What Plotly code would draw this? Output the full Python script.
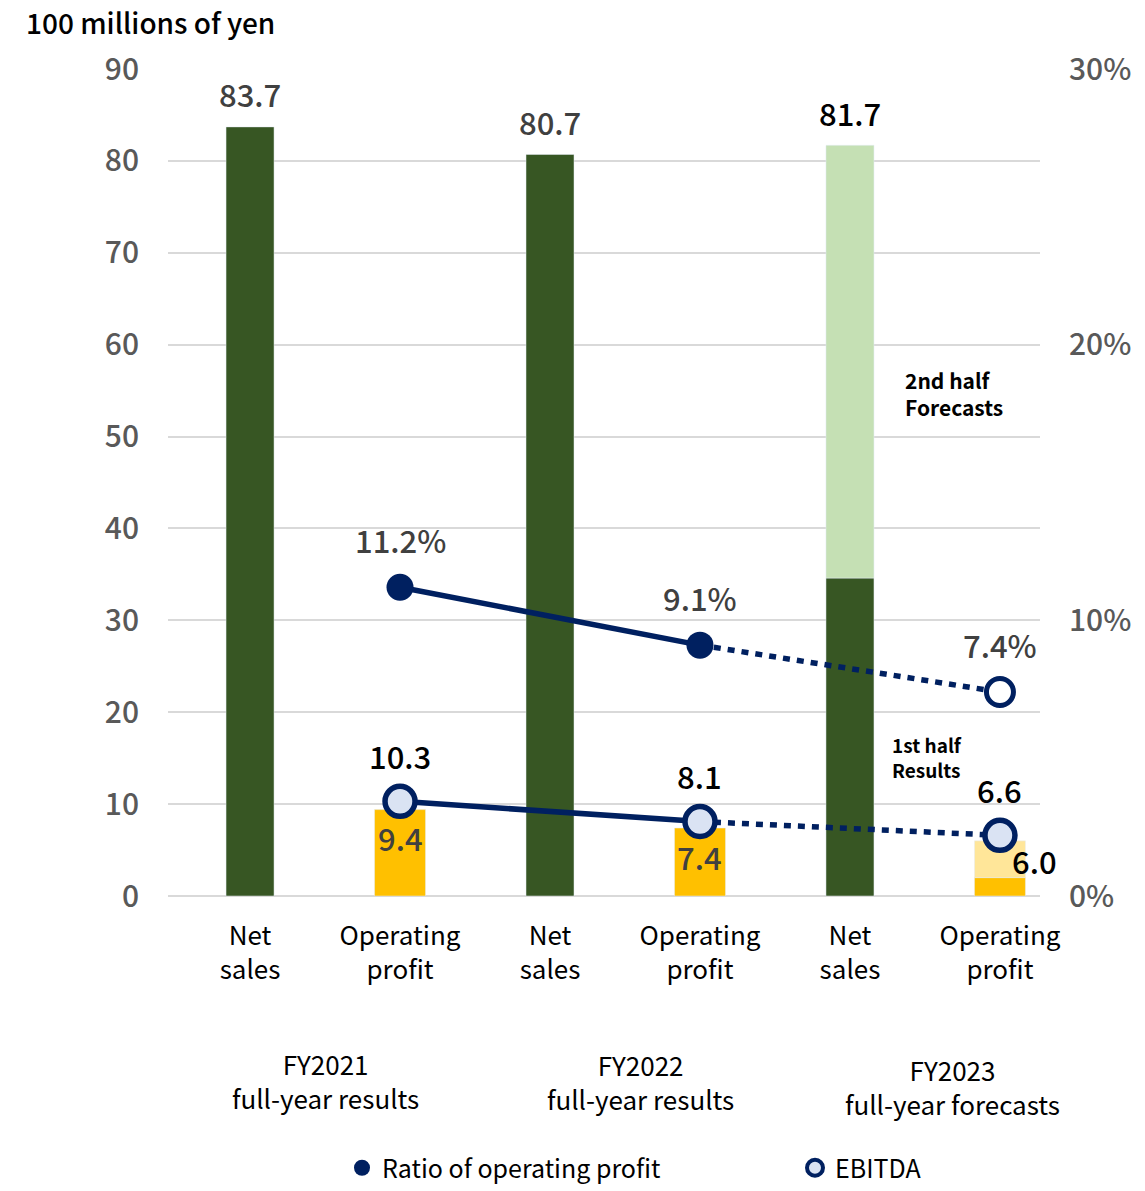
import plotly.graph_objects as go

# ---------------- data ----------------
slot_labels = ["Net<br>sales", "Operating<br>profit", "Net<br>sales",
               "Operating<br>profit", "Net<br>sales", "Operating<br>profit"]
year_labels = ["FY2021<br>full-year results", "FY2022<br>full-year results",
               "FY2023<br>full-year forecasts"]
net_sales_total = [83.7, 80.7, 81.7]
net_sales_1h_fy2023 = 34.6
op_profit_total = [9.4, 7.4, 6.0]
op_profit_1h_fy2023 = 2.0
ebitda = [10.3, 8.1, 6.6]
op_ratio = [0.112, 0.091, 0.074]

# ---------------- layout constants ----------------
W, H = 1145, 1191
ML, MR, MT, MB = 168, 105, 69, 295
PW, PH = W - ML - MR, H - MT - MB
FONT = "Noto Sans CJK JP"
NAVY = "#002060"
DKGREEN = "#375623"
LTGREEN = "#C5E0B4"
YELLOW = "#FFC000"
LTYELLOW = "#FFE699"
EBITDA_FILL = "#DAE3F3"
GRAY = "#595959"
DGRAY = "#404040"
WT = 500


def px(x):
    return (x - ML) / PW


def py(y):
    return (H - MB - y) / PH


ns_x = [0, 2, 4]
op_x = [1, 3, 5]

fig = go.Figure()

# Net sales: full years + FY2023 1st half (dark), FY2023 2nd half (light)
ns_dark = net_sales_total[:2] + [net_sales_1h_fy2023]
fig.add_trace(go.Bar(x=ns_x, y=ns_dark, marker_color=DKGREEN, width=0.32,
                     showlegend=False, hoverinfo="skip"))
fig.add_trace(go.Bar(x=[ns_x[2]], y=[net_sales_total[2] - net_sales_1h_fy2023],
                     marker_color=LTGREEN, width=0.32, showlegend=False, hoverinfo="skip"))
op_dark = op_profit_total[:2] + [op_profit_1h_fy2023]
fig.add_trace(go.Bar(x=op_x, y=op_dark, marker_color=YELLOW, width=0.34,
                     showlegend=False, hoverinfo="skip"))
fig.add_trace(go.Bar(x=[op_x[2]], y=[op_profit_total[2] - op_profit_1h_fy2023],
                     marker_color=LTYELLOW, width=0.34, showlegend=False, hoverinfo="skip"))

# EBITDA lines (left axis)
fig.add_trace(go.Scatter(x=op_x[:2], y=ebitda[:2], mode="lines",
                         line=dict(color=NAVY, width=5.5), showlegend=False, hoverinfo="skip"))
fig.add_trace(go.Scatter(x=op_x[1:], y=ebitda[1:], mode="lines",
                         line=dict(color=NAVY, width=5.5, dash="7px,7px"),
                         showlegend=False, hoverinfo="skip"))
fig.add_trace(go.Scatter(x=op_x, y=ebitda, mode="markers", name="EBITDA",
                         marker=dict(size=30, color=EBITDA_FILL, line=dict(color=NAVY, width=5.5)),
                         showlegend=False))

# Operating profit ratio (right axis)
fig.add_trace(go.Scatter(x=op_x[:2], y=op_ratio[:2], mode="lines", yaxis="y2",
                         line=dict(color=NAVY, width=5.5), showlegend=False, hoverinfo="skip"))
fig.add_trace(go.Scatter(x=op_x[1:], y=op_ratio[1:], mode="lines", yaxis="y2",
                         line=dict(color=NAVY, width=5.5, dash="7px,7px"),
                         showlegend=False, hoverinfo="skip"))
fig.add_trace(go.Scatter(x=op_x[:2], y=op_ratio[:2], mode="markers", yaxis="y2",
                         marker=dict(size=27, color=NAVY), showlegend=False))
fig.add_trace(go.Scatter(x=op_x[2:], y=op_ratio[2:], mode="markers", yaxis="y2",
                         marker=dict(size=27, color="white", line=dict(color=NAVY, width=5)),
                         showlegend=False))

# Legend-only traces (each in its own legend for exact placement)
fig.add_trace(go.Scatter(x=[None], y=[None], mode="markers", name="Ratio of operating profit",
                         marker=dict(size=22, color=NAVY), legend="legend"))
fig.add_trace(go.Scatter(x=[None], y=[None], mode="markers", name="EBITDA",
                         marker=dict(size=24, color=EBITDA_FILL, line=dict(color=NAVY, width=4)),
                         legend="legend2"))

ann = []
# net sales value labels
for i, (x, v) in enumerate(zip(ns_x, net_sales_total)):
    ann.append(dict(x=x, y=v, xref="x", yref="y", text=f"{v:.1f}", showarrow=False,
                    yanchor="middle", yshift=33,
                    font=dict(family=FONT, size=31, weight=WT,
                              color="black" if i == 2 else DGRAY)))
# op profit value labels
for i, (x, v) in enumerate(zip(op_x, op_profit_total)):
    if i < 2:
        ann.append(dict(x=x, y=v, xref="x", yref="y", text=f"{v:.1f}", showarrow=False,
                        yanchor="middle", yshift=-28,
                        font=dict(family=FONT, size=31, weight=WT, color=DGRAY)))
    else:
        ann.append(dict(x=x, y=v, xref="x", yref="y", text=f"{v:.1f}", showarrow=False,
                        xanchor="left", yanchor="middle", xshift=10, yshift=-20,
                        font=dict(family=FONT, size=31, weight=WT, color="black")))
# EBITDA labels
for x, v in zip(op_x, ebitda):
    ann.append(dict(x=x, y=v, xref="x", yref="y", text=f"{v:.1f}", showarrow=False,
                    yanchor="middle", yshift=46,
                    font=dict(family=FONT, size=31, weight=WT, color="black")))
# ratio labels
for x, v in zip(op_x, op_ratio):
    ann.append(dict(x=x, y=v, xref="x", yref="y2", text=f"{v*100:.1f}%", showarrow=False,
                    yanchor="middle", yshift=48,
                    font=dict(family=FONT, size=31, weight=WT, color=DGRAY)))
# half-year notes
ann.append(dict(x=px(903), y=py(393), xref="paper", yref="paper", text="<b>2nd half<br>Forecasts</b>",
                showarrow=False, xanchor="left", yanchor="middle", align="left",
                font=dict(family=FONT, size=21, color="black")))
ann.append(dict(x=px(890), y=py(757), xref="paper", yref="paper", text="<b>1st half<br>Results</b>",
                showarrow=False, xanchor="left", yanchor="middle", align="left",
                font=dict(family=FONT, size=19, color="black")))
# group labels
for cx, cy, t in zip([325, 640, 952], [1080, 1081, 1086], year_labels):
    ann.append(dict(x=px(cx), y=py(cy), xref="paper", yref="paper", text=t, showarrow=False,
                    xanchor="center", yanchor="middle",
                    font=dict(family=FONT, size=26, color="black")))
# unit title
ann.append(dict(x=px(24), y=py(22), xref="paper", yref="paper", text="100 millions of yen",
                showarrow=False, xanchor="left", yanchor="middle",
                font=dict(family=FONT, size=28, weight=WT, color="black")))

legend_common = dict(orientation="h", xref="container", yref="container",
                     y=1 - 1168 / H, xanchor="left", yanchor="middle",
                     font=dict(family=FONT, size=25, color="black"),
                     itemsizing="trace", bgcolor="rgba(0,0,0,0)")

fig.update_layout(
    width=W, height=H,
    margin=dict(l=ML, r=MR, t=MT, b=MB, pad=0, autoexpand=False),
    paper_bgcolor="white", plot_bgcolor="white",
    barmode="relative",
    font=dict(family=FONT, color="black"),
    xaxis=dict(range=[-0.547, 5.267], tickmode="array", tickvals=list(range(6)),
               ticktext=slot_labels, showgrid=False, zeroline=False,
               showline=False, ticks="", ticklabelstandoff=22, automargin=False,
               tickfont=dict(family=FONT, size=26, color="black")),
    yaxis=dict(range=[0, 90], dtick=10, showgrid=True, gridcolor="#D9D9D9", gridwidth=1.5,
               zeroline=True, zerolinecolor="#D9D9D9", zerolinewidth=2,
               ticks="", ticklabelstandoff=28, automargin=False,
               tickfont=dict(family=FONT, size=30, weight=WT, color=GRAY)),
    yaxis2=dict(range=[0, 0.3], overlaying="y", side="right", tickvals=[0, 0.1, 0.2, 0.3],
                tickformat=".0%", showgrid=False, zeroline=False, ticks="",
                ticklabelstandoff=28, automargin=False,
                tickfont=dict(family=FONT, size=30, weight=WT, color=GRAY)),
    legend=dict(x=342 / W, **legend_common),
    legend2=dict(x=795 / W, **legend_common),
    annotations=ann,
)

fig.write_html("out.html")
